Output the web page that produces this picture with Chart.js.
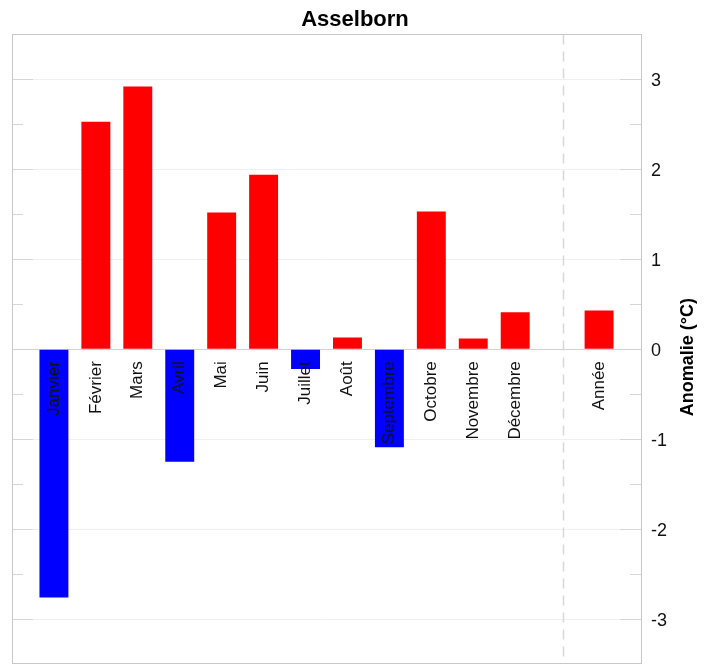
<!DOCTYPE html>
<html>
<head>
<meta charset="utf-8">
<script src="https://cdn.jsdelivr.net/npm/chart.js@4/dist/chart.umd.min.js"></script>
<style>
  html, body { margin: 0; padding: 0; background: #ffffff; }
  #wrap { width: 716px; height: 664px; }
</style>
</head>
<body>
<div id="wrap"><canvas id="chart" width="716" height="664"></canvas></div>
<script>
// Monthly temperature anomalies (°C) for Asselborn
const months = ['Janvier', 'Février', 'Mars', 'Avril', 'Mai', 'Juin',
                'Juillet', 'Août', 'Septembre', 'Octobre', 'Novembre', 'Décembre'];
const monthValues = [-2.76, 2.53, 2.92, -1.25, 1.52, 1.94, -0.22, 0.13, -1.09, 1.53, 0.12, 0.41];
const annualLabel = 'Année';
const annualValue = 0.43;
const yTickValues = [-3, -2, -1, 0, 1, 2, 3];

const FONT = '"Liberation Sans", Arial, Helvetica, sans-serif';
const POS_COLOR = '#ff0000';
const NEG_COLOR = '#0000ff';

// Slots: empty margin, 12 months, empty gap, annual bar, empty margin
const slotLabels = [''].concat(months, ['', annualLabel, '']);
const slotValues = [null].concat(monthValues, [null, annualValue, null]);
const separatorSlot = 13.15;

const decorations = {
  id: 'decorations',
  beforeDatasetsDraw(chart) {
    const { ctx, chartArea: a, scales: { x, y } } = chart;
    ctx.save();
    // inward tick marks on both sides, majors at integers, minors at halves
    ctx.strokeStyle = '#d6d6d6';
    ctx.lineWidth = 1;
    for (let v = -3.5; v <= 3.5; v += 0.5) {
      const py = Math.round(y.getPixelForValue(v)) + 0.5;
      const len = Number.isInteger(v) ? 21 : 11;
      ctx.beginPath();
      ctx.moveTo(a.left, py); ctx.lineTo(a.left + len, py);
      ctx.moveTo(a.right, py); ctx.lineTo(a.right - len, py);
      ctx.stroke();
    }
    // zero line
    const y0 = Math.round(y.getPixelForValue(0)) + 0.5;
    ctx.strokeStyle = '#d2d2d2';
    ctx.beginPath();
    ctx.moveTo(a.left, y0); ctx.lineTo(a.right, y0);
    ctx.stroke();
    // dashed separator between months and the annual value
    const sx = Math.round(x.getPixelForValue(separatorSlot)) + 0.5;
    ctx.strokeStyle = '#d8d8d8';
    ctx.lineWidth = 1.5;
    ctx.setLineDash([10, 7]);
    ctx.beginPath();
    ctx.moveTo(sx, a.top); ctx.lineTo(sx, a.bottom - 6);
    ctx.stroke();
    ctx.setLineDash([]);
    // frame
    ctx.strokeStyle = '#c8c8c8';
    ctx.lineWidth = 1;
    ctx.strokeRect(Math.round(a.left) + 0.5, Math.round(a.top) + 0.5,
                   Math.round(a.right - a.left), Math.round(a.bottom - a.top) - 1);
    ctx.restore();
  },
  afterDraw(chart) {
    const { ctx, chartArea: a, scales: { x, y } } = chart;
    const y0 = y.getPixelForValue(0);
    ctx.save();
    // category labels written vertically just below the zero line
    ctx.fillStyle = '#111111';
    ctx.font = '17px ' + FONT;
    ctx.textAlign = 'right';
    ctx.textBaseline = 'middle';
    slotLabels.forEach((lab, i) => {
      if (!lab) return;
      ctx.save();
      ctx.translate(x.getPixelForValue(i), y0 + 12);
      ctx.rotate(-Math.PI / 2);
      ctx.fillText(lab, 0, 0);
      ctx.restore();
    });
    // value axis title, reading upwards
    ctx.font = 'bold 18px ' + FONT;
    ctx.textAlign = 'center';
    ctx.fillStyle = '#000000';
    ctx.translate(688, (a.top + a.bottom) / 2 + 8);
    ctx.rotate(-Math.PI / 2);
    ctx.fillText('Anomalie (°C)', 0, 0);
    ctx.restore();
  }
};

new Chart(document.getElementById('chart'), {
  type: 'bar',
  data: {
    labels: slotLabels,
    datasets: [{
      data: slotValues,
      backgroundColor: slotValues.map(v => v === null ? 'rgba(0,0,0,0)' : (v >= 0 ? POS_COLOR : NEG_COLOR)),
      borderWidth: 0,
      categoryPercentage: 1,
      barPercentage: 0.69
    }]
  },
  options: {
    responsive: false,
    animation: false,
    devicePixelRatio: 1,
    layout: { padding: { left: 12, right: 18, top: 0, bottom: 0 } },
    plugins: {
      legend: { display: false },
      tooltip: { enabled: false },
      title: {
        display: true,
        text: 'Asselborn',
        color: '#000000',
        font: { family: FONT, size: 22, weight: 'bold' },
        padding: { top: 7, bottom: 1 }
      }
    },
    scales: {
      x: {
        type: 'category',
        display: false,
        offset: false,
        grid: { display: false }
      },
      y: {
        position: 'right',
        min: -3.5,
        max: 3.5,
        afterBuildTicks: s => { s.ticks = yTickValues.map(v => ({ value: v })); },
        afterFit: s => { s.width = 57; s.paddingTop = 0; s.paddingBottom = 0; },
        ticks: { color: '#111111', padding: 10, labelOffset: 2, font: { family: FONT, size: 18 } },
        grid: { color: '#f0f0f0', drawTicks: false },
        border: { display: false }
      }
    }
  },
  plugins: [decorations]
});
</script>
</body>
</html>
